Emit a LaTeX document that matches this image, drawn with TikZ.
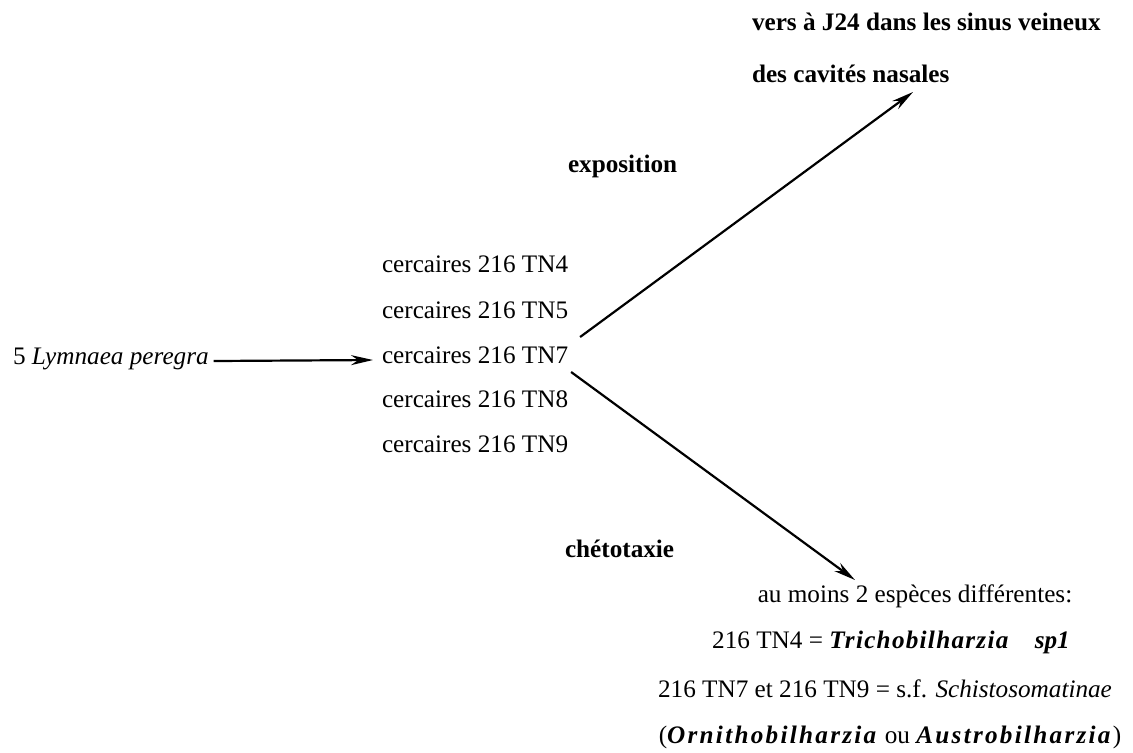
\documentclass[tikz,border=0pt]{standalone}
\usepackage{fontspec}
\setmainfont{Liberation Serif}
\usetikzlibrary{arrows.meta}
\newcommand{\spaced}[1]{{\addfontfeature{LetterSpace=9}#1}}
\newcommand{\lspaced}[1]{{\addfontfeature{LetterSpace=5}#1}}

\begin{document}
\begin{tikzpicture}[x=0.5pt,y=-0.5pt,
  every node/.style={inner sep=0pt, outer sep=0pt, anchor=base west, font=\fontsize{12.6}{15}\selectfont},
  arr/.style={line width=1.1pt, -{Stealth[length=11pt,width=5pt]}}]
\useasboundingbox (0,0) rectangle (1133,752);

\node (vers) at (752,30) {\textbf{vers à J24 dans les sinus veineux}};
\node (nas) at (752,82) {\textbf{des cavités nasales}};
\node (expo) at (568,172) {\textbf{exposition}};

\node (lym) at (13,364) {5 \textit{Lymnaea peregra}};
\node (tn4) at (382,272) {cercaires 216 TN4};
\node (tn5) at (382,318) {cercaires 216 TN5};
\node (tn7) at (382,363) {cercaires 216 TN7};
\node (tn8) at (382,407) {cercaires 216 TN8};
\node (tn9) at (382,452) {cercaires 216 TN9};

\node (cheto) at (565,557) {\textbf{chétotaxie}};

\node[anchor=base] (esp) at (915,602) {au moins 2 espèces différentes:};
\node[anchor=base] (tri) at (891,648) {216 TN4 = \textbf{\textit{\lspaced{Trichobilharzia}}}\quad\textbf{\textit{sp1}}};
\node[anchor=base] (sch) at (885,697) {216 TN7 et 216 TN9 = s.f. \textit{Schistosomatinae}};
\node[anchor=base] (orn) at (890,743) {(\textbf{\textit{\spaced{Ornithobilharzia}}} ou \textbf{\textit{\spaced{Austrobilharzia}}})};

\coordinate (upTip) at (913,92);
\coordinate (downTip) at (855,580);

\draw[arr] ([xshift=2.5pt,yshift=1.5pt]lym.base east) -- ([xshift=-4.5pt,yshift=1.5pt]tn7.base west);
\draw[arr] ([xshift=6pt,yshift=13pt]tn7.base east) -- (upTip);
\draw[arr] ([xshift=1.5pt,yshift=-4.5pt]tn7.base east) -- (downTip);
\end{tikzpicture}
\end{document}
